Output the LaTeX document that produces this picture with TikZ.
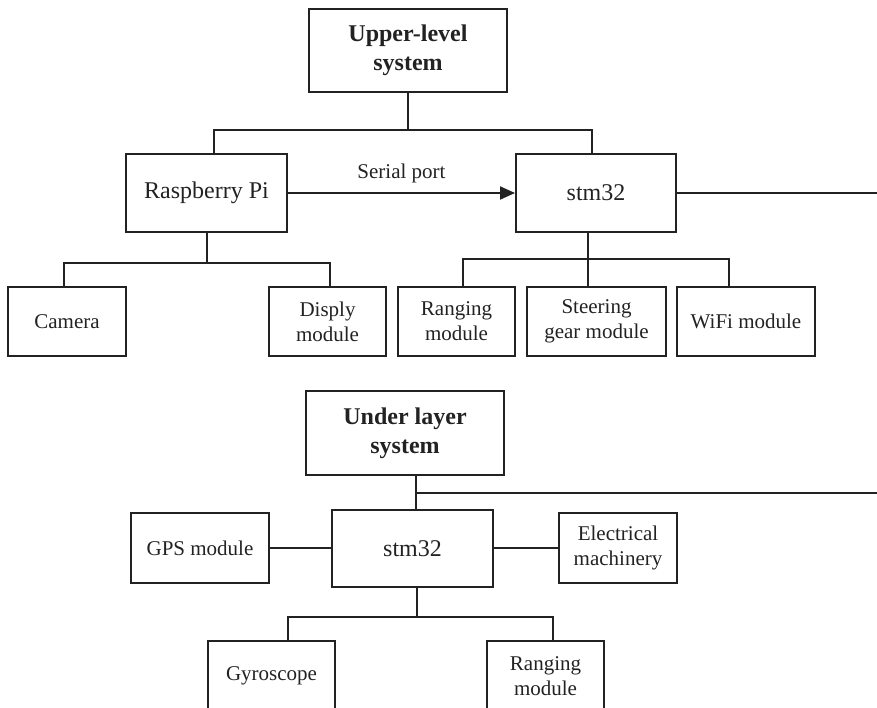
\documentclass[tikz,border=0pt]{standalone}
\usepackage{fontspec}
\setmainfont{Liberation Serif}
\usetikzlibrary{arrows.meta}
\definecolor{ink}{HTML}{222222}
\tikzset{
  box/.style={draw=ink, line width=2pt, align=center, inner sep=2pt, text=ink},
  mainbox/.style={box, font=\fontsize{24}{28}\selectfont},
  headbox/.style={box, font=\bfseries\fontsize{24}{29}\selectfont},
  leafbox/.style={box, font=\fontsize{21}{25}\selectfont},
  wire/.style={draw=ink, line width=2pt},
  lbl/.style={text=ink, font=\fontsize{21}{25}\selectfont, inner sep=0pt}
}
\begin{document}
\begin{tikzpicture}[x=1pt,y=-1pt]
\useasboundingbox (0,0) rectangle (877,708);
\clip (0,0) rectangle (877,708);
% upper half
\node[headbox, minimum width=198pt, minimum height=83pt] (up) at (408,50.5) {Upper-level\\system};
\node[mainbox, minimum width=161pt, minimum height=78pt] (rpi) at (206.5,193) {Raspberry Pi};
\node[mainbox, minimum width=160pt, minimum height=78pt] (stmA) at (596,193) {stm32};
\node[leafbox, minimum width=118pt, minimum height=69pt] (cam) at (67,321.5) {Camera};
\node[leafbox, minimum width=117pt, minimum height=69pt] (disp) at (327.5,321.5) {Disply\\module};
\node[leafbox, minimum width=117pt, minimum height=69pt] (rngA) at (456.5,321.5) {Ranging\\module};
\node[leafbox, minimum width=139pt, minimum height=69pt] (steer) at (596.5,321.5) {Steering\\gear module};
\node[leafbox, minimum width=138pt, minimum height=69pt] (wifi) at (746,321.5) {WiFi module};
\coordinate (j1) at (408,130);
\coordinate (j2) at (207,263);
\coordinate (j3) at (588,259);
\coordinate (eA) at (880,193);
\draw[wire] (up.south) -- (j1);
\draw[wire] ([xshift=7.5pt]rpi.north) |- (j1) -| ([xshift=-4pt]stmA.north);
\draw[wire, -{Triangle[length=15pt,width=13pt]}] (rpi.east) -- node[lbl, above=9pt] {Serial port} (stmA.west);
\draw[wire] (stmA.east) -- (eA);
\draw[wire] ([xshift=0.5pt]rpi.south) -- (j2);
\draw[wire] ([xshift=-3pt]cam.north) |- (j2) -| ([xshift=2.5pt]disp.north);
\draw[wire] ([xshift=-8pt]stmA.south) -- ([xshift=-8.5pt]steer.north);
\draw[wire] ([xshift=6.5pt]rngA.north) |- (j3) -| ([xshift=-17pt]wifi.north);
% lower half
\node[headbox, minimum width=198pt, minimum height=84pt] (under) at (405,433) {Under layer\\system};
\node[mainbox, minimum width=161pt, minimum height=77pt] (stmB) at (412.5,548.5) {stm32};
\node[leafbox, minimum width=138pt, minimum height=70pt] (gps) at (200,548) {GPS module};
\node[leafbox, minimum width=118pt, minimum height=70pt] (elec) at (618,548) {Electrical\\machinery};
\node[leafbox, minimum width=127pt, minimum height=70pt] (gyro) at (271.5,676) {Gyroscope};
\node[leafbox, minimum width=117pt, minimum height=70pt] (rngB) at (545.5,676) {Ranging\\module};
\coordinate (k1) at (416,493);
\coordinate (eB) at (880,493);
\coordinate (k2) at (417,617);
\draw[wire] ([xshift=11pt]under.south) -- ([xshift=3.5pt]stmB.north);
\draw[wire] (k1) -- (eB);
\draw[wire] (gps.east) -- (stmB.west |- gps.east);
\draw[wire] (stmB.east |- elec.west) -- (elec.west);
\draw[wire] ([xshift=4.5pt]stmB.south) -- (k2);
\draw[wire] ([xshift=16.5pt]gyro.north) |- (k2) -| ([xshift=7.5pt]rngB.north);
\end{tikzpicture}
\end{document}
